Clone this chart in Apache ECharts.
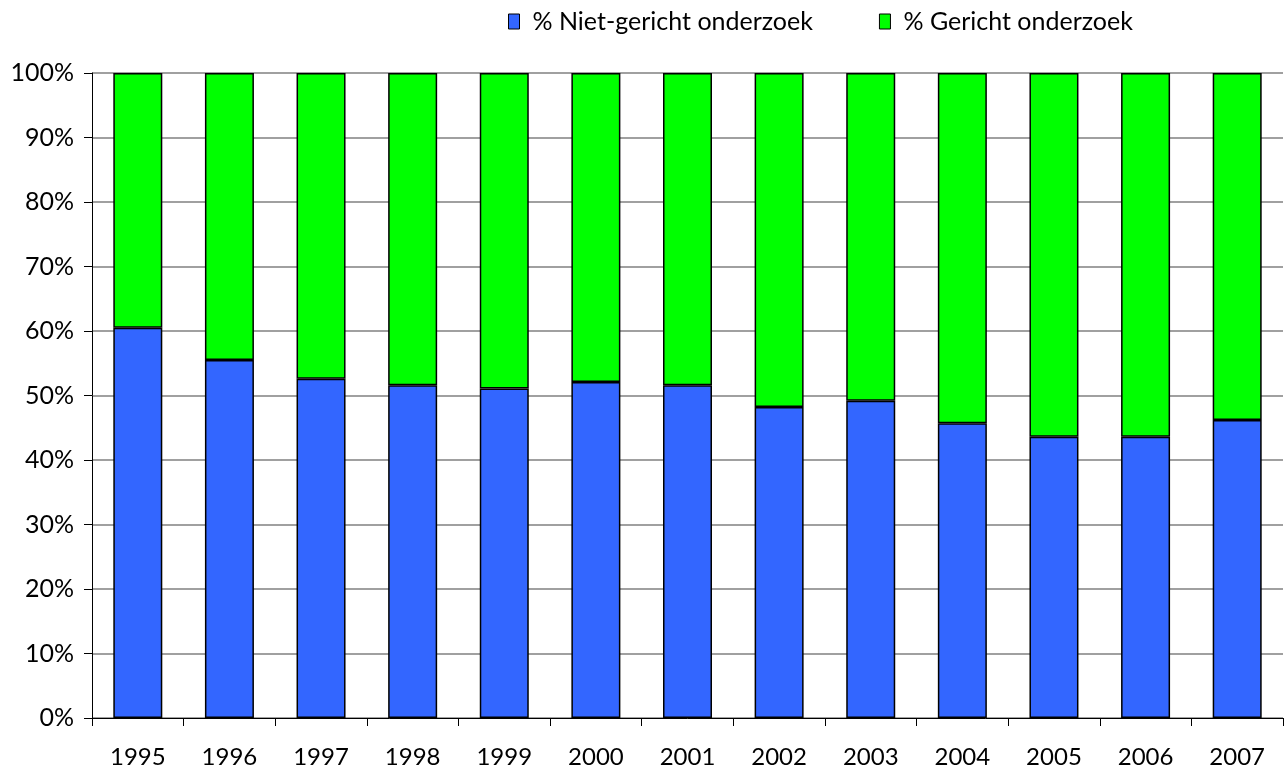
<!DOCTYPE html>
<html>
<head>
<meta charset="utf-8">
<script src="https://cdn.jsdelivr.net/npm/echarts@6/dist/echarts.min.js"></script>
<style>
html,body{margin:0;padding:0;background:#fff;}
#chart{width:1288px;height:773px;}
</style>
</head>
<body>
<div id="chart"></div>
<script>
const categories = ['1995','1996','1997','1998','1999','2000','2001','2002','2003','2004','2005','2006','2007'];
const nietGericht = [60.5, 55.5, 52.6, 51.6, 51.1, 52.1, 51.6, 48.2, 49.2, 45.7, 43.6, 43.6, 46.2];
const gericht = [39.5, 44.5, 47.4, 48.4, 48.9, 47.9, 48.4, 51.8, 50.8, 54.3, 56.4, 56.4, 53.8];
const seriesNames = ['% Niet-gericht onderzoek', '% Gericht onderzoek'];
const colors = ['#3366FF', '#00FF00'];

const FONT = 'Lato';
const chart = echarts.init(document.getElementById('chart'), null, {renderer: 'canvas'});
chart.setOption({
  animation: false,
  backgroundColor: '#fff',
  textStyle: {fontFamily: FONT, color: '#000'},
  legend: {
    top: 4,
    left: 503,
    itemWidth: 11,
    itemHeight: 15,
    itemGap: 66,
    textStyle: {fontFamily: FONT, fontSize: 25, color: '#000', padding: [0, 0, 0, 8]},
    data: seriesNames.map((n, i) => ({name: n, icon: 'rect', itemStyle: {color: colors[i], borderColor: '#000', borderWidth: 1}}))
  },
  grid: {left: 92, right: 5, top: 73, bottom: 55, containLabel: false},
  xAxis: {
    type: 'category',
    data: categories,
    boundaryGap: true,
    axisLine: {lineStyle: {color: '#000', width: 1}},
    axisTick: {show: true, length: 8, lineStyle: {color: '#000'}},
    axisLabel: {fontFamily: FONT, fontSize: 24, color: '#000', margin: 27}
  },
  yAxis: {
    type: 'value',
    min: 0, max: 100, interval: 10,
    axisLine: {show: true, lineStyle: {color: '#000', width: 1}},
    axisTick: {show: true, length: 8, lineStyle: {color: '#000'}},
    axisLabel: {fontFamily: FONT, fontSize: 25, color: '#000', margin: 18, formatter: v => v + '%'},
    splitLine: {show: true, lineStyle: {color: '#808080', width: 1.5}}
  },
  series: [
    {name: seriesNames[0], type: 'bar', stack: 'a', data: nietGericht, barWidth: 49,
     itemStyle: {color: colors[0], borderColor: '#000', borderWidth: 1.5}},
    {name: seriesNames[1], type: 'bar', stack: 'a', data: gericht, barWidth: 49,
     itemStyle: {color: colors[1], borderColor: '#000', borderWidth: 1.5}}
  ]
});
</script>
</body>
</html>
